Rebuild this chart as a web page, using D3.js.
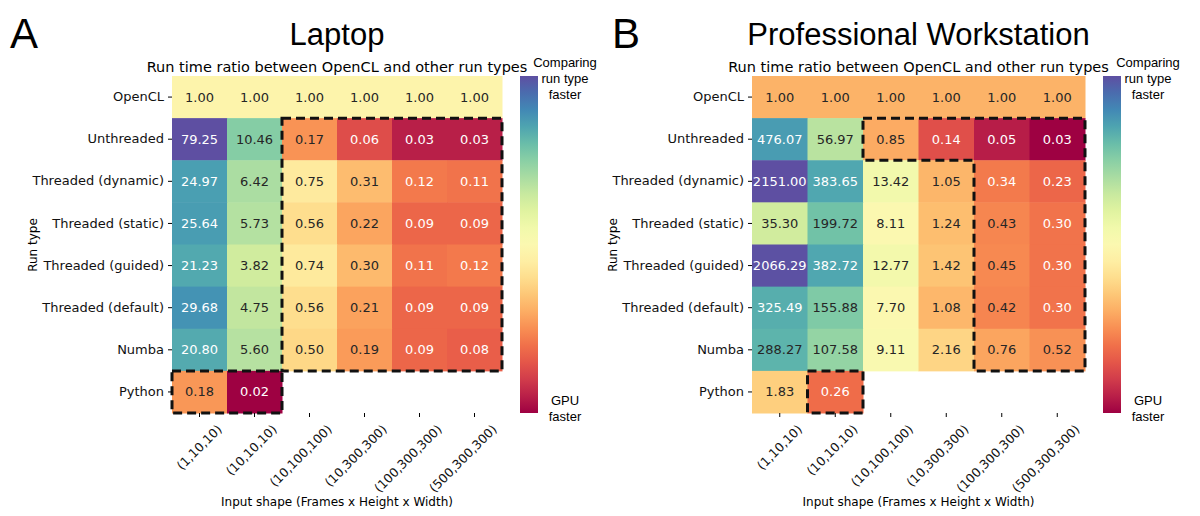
<script src="https://d3js.org/d3.v7.min.js"></script>
<html>
<head>
<style>
body { margin: 0; background: #fff; }
text { font-family: "DejaVu Sans", sans-serif; }
</style>
</head>
<body>
<div id="chart"></div>
<script>
const rows = ["OpenCL", "Unthreaded", "Threaded (dynamic)", "Threaded (static)", "Threaded (guided)", "Threaded (default)", "Numba", "Python"];
const cols = ["(1,10,10)", "(10,10,10)", "(10,100,100)", "(10,300,300)", "(100,300,300)", "(500,300,300)"];

// null = no measurement
const laptop = [
  [1.00, 1.00, 1.00, 1.00, 1.00, 1.00],
  [79.25, 10.46, 0.17, 0.06, 0.03, 0.03],
  [24.97, 6.42, 0.75, 0.31, 0.12, 0.11],
  [25.64, 5.73, 0.56, 0.22, 0.09, 0.09],
  [21.23, 3.82, 0.74, 0.30, 0.11, 0.12],
  [29.68, 4.75, 0.56, 0.21, 0.09, 0.09],
  [20.80, 5.60, 0.50, 0.19, 0.09, 0.08],
  [0.18, 0.02, null, null, null, null]
];
const workstation = [
  [1.00, 1.00, 1.00, 1.00, 1.00, 1.00],
  [476.07, 56.97, 0.85, 0.14, 0.05, 0.03],
  [2151.00, 383.65, 13.42, 1.05, 0.34, 0.23],
  [35.30, 199.72, 8.11, 1.24, 0.43, 0.30],
  [2066.29, 382.72, 12.77, 1.42, 0.45, 0.30],
  [325.49, 155.88, 7.70, 1.08, 0.42, 0.30],
  [288.27, 107.58, 9.11, 2.16, 0.76, 0.52],
  [1.83, 0.26, null, null, null, null]
];

// dashed outlines as lists of [col,row] grid corners
const laptopBoxes = [
  [[2,1],[6,1],[6,7],[2,7]],
  [[0,7],[2,7],[2,8],[0,8]]
];
const workBoxes = [
  [[2,1],[6,1],[6,7],[4,7],[4,2],[2,2]],
  [[1,7],[2,7],[2,8],[1,8]]
];

const W = 1200, H = 516;
const svg = d3.select("#chart").append("svg").attr("width", W).attr("height", H);

function panel(opt) {
  const g = svg.append("g");
  const x = d3.scaleBand().domain(cols).range([opt.x0, opt.x1]);
  const y = d3.scaleBand().domain(rows).range([76, 413]);
  const vals = opt.data.flat().filter(v => v != null);
  const col = d3.scaleSequentialLog(d3.interpolateSpectral).domain(d3.extent(vals));

  const cells = [];
  opt.data.forEach((r, i) => r.forEach((v, j) => { if (v != null) cells.push({ r: rows[i], c: cols[j], v }); }));

  g.selectAll("rect.cell").data(cells).enter().append("rect")
    .attr("x", d => x(d.c)).attr("y", d => y(d.r))
    .attr("width", x.bandwidth() + 0.5).attr("height", y.bandwidth() + 0.5)
    .attr("fill", d => col(d.v));

  g.selectAll("text.val").data(cells).enter().append("text")
    .attr("x", d => x(d.c) + x.bandwidth() / 2).attr("y", d => y(d.r) + y.bandwidth() / 2)
    .attr("dy", "0.35em").attr("text-anchor", "middle").attr("font-size", 13)
    .attr("fill", d => {
      const c = d3.rgb(col(d.v));
      const lum = (0.299 * c.r + 0.587 * c.g + 0.114 * c.b) / 255;
      return lum > 0.6 ? "#262626" : "#ffffff";
    })
    .text(d => d.v.toFixed(2));

  // dashed outlines
  const line = d3.line()
    .x(p => opt.x0 + p[0] * x.step())
    .y(p => 76 + p[1] * y.step());
  opt.boxes.forEach(b => {
    g.append("path").attr("d", line(b) + "Z")
      .attr("fill", "none").attr("stroke", "#111").attr("stroke-width", 3)
      .attr("stroke-dasharray", "9,5");
  });

  // y axis
  const ya = g.append("g").attr("transform", `translate(${opt.x0},0)`)
    .call(d3.axisLeft(y).tickSize(4).tickPadding(4));
  ya.select(".domain").remove();
  ya.selectAll("text").attr("font-size", 13).attr("fill", "#111").style("font-family", "DejaVu Sans");

  // x axis
  const xa = g.append("g").attr("transform", "translate(0,413)")
    .call(d3.axisBottom(x).tickSize(4));
  xa.select(".domain").remove();
  xa.selectAll("text").attr("font-size", 12.5).attr("fill", "#111").style("font-family", "DejaVu Sans")
    .attr("text-anchor", "end").attr("x", 0).attr("y", 0).attr("dy", "0.35em")
    .attr("transform", "translate(20,14) rotate(-45)");

  const mid = (opt.x0 + opt.x1) / 2;
  g.append("text").attr("x", mid).attr("y", 506).attr("text-anchor", "middle")
    .attr("font-size", 12).text("Input shape (Frames x Height x Width)");
  g.append("text").attr("transform", `translate(${opt.x0 - 135},245) rotate(-90)`)
    .attr("text-anchor", "middle").attr("font-size", 12).text("Run type");
  g.append("text").attr("x", mid).attr("y", 72).attr("text-anchor", "middle")
    .attr("font-size", 14.5).text("Run time ratio between OpenCL and other run types");
  g.append("text").attr("x", mid).attr("y", 45).attr("text-anchor", "middle")
    .attr("font-size", 31).style("font-family", "Liberation Sans").text(opt.title);
  g.append("text").attr("x", opt.letterX).attr("y", 48)
    .attr("font-size", 42).style("font-family", "Liberation Sans").text(opt.letter);

  // colorbar
  const cbx = opt.x1 + 18, cbw = 18;
  const id = "grad" + opt.letter;
  const grad = svg.append("defs").append("linearGradient").attr("id", id)
    .attr("x1", 0).attr("y1", 1).attr("x2", 0).attr("y2", 0);
  d3.range(0, 1.001, 0.05).forEach(t => {
    grad.append("stop").attr("offset", t).attr("stop-color", d3.interpolateSpectral(t));
  });
  g.append("rect").attr("x", cbx).attr("y", 76).attr("width", cbw).attr("height", 337)
    .attr("fill", `url(#${id})`);
  const lx = cbx + cbw + 27;
  [["Comparing", 67], ["run type", 83], ["faster", 99]].forEach(([t, yy]) =>
    g.append("text").attr("x", lx).attr("y", yy).attr("text-anchor", "middle")
      .attr("font-size", 13).style("font-family", "Liberation Sans").text(t));
  [["GPU", 405], ["faster", 421]].forEach(([t, yy]) =>
    g.append("text").attr("x", lx).attr("y", yy).attr("text-anchor", "middle")
      .attr("font-size", 13).style("font-family", "Liberation Sans").text(t));
}

panel({ data: laptop, boxes: laptopBoxes, x0: 172, x1: 502, title: "Laptop", letter: "A", letterX: 10 });
panel({ data: workstation, boxes: workBoxes, x0: 752, x1: 1085, title: "Professional Workstation", letter: "B", letterX: 612 });
</script>
</body>
</html>
